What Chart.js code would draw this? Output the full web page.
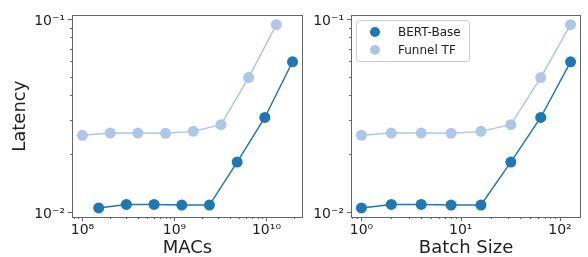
<!DOCTYPE html>
<html>
<head>
<meta charset="utf-8">
<script src="https://cdn.jsdelivr.net/npm/chart.js@4.4.1/dist/chart.umd.min.js"></script>
<style>
  html, body { margin: 0; padding: 0; background: #fff; }
  #wrap { position: relative; width: 588px; height: 257px; overflow: hidden; }
  canvas { position: absolute; top: 0; }
  #c1 { left: 0; }
  #c2 { left: 310px; }
</style>
</head>
<body>
<div id="wrap">
  <canvas id="c1" width="310" height="257"></canvas>
  <canvas id="c2" width="278" height="257"></canvas>
</div>
<script>
// ---- data ----
const seriesNames = ['BERT-Base', 'Funnel TF'];
const macsBert   = [1.5e8, 3e8, 6e8, 1.2e9, 2.4e9, 4.8e9, 9.6e9, 1.92e10];
const macsFunnel = [1e8, 2e8, 4e8, 8e8, 1.6e9, 3.2e9, 6.4e9, 1.28e10];
const batchSizes = [1, 2, 4, 8, 16, 32, 64, 128];
const latencyBert   = [0.01045, 0.0109, 0.0109, 0.01082, 0.01082, 0.01807, 0.03076, 0.0598];
const latencyFunnel = [0.02486, 0.02555, 0.02555, 0.02547, 0.02606, 0.02822, 0.0495, 0.0931];

const macsTickValues  = [1e8, 1e9, 1e10];
const macsTickLabels  = ['10⁸', '10⁹', '10¹⁰'];
const batchTickValues = [1, 10, 100];
const batchTickLabels = ['10⁰', '10¹', '10²'];
const latTickValues   = [0.01, 0.1];
const latTickLabels   = ['10⁻²', '10⁻¹'];

const colors = ['#1f77b4', '#aec7e8'];
const FRAME = '#666666';
const TEXT = '#222222';
const FONT = "'DejaVu Sans', sans-serif";

function isMajor(v) {
  const l = Math.log10(v);
  return Math.abs(l - Math.round(l)) < 1e-9;
}
function logTicks(min, max) {
  const out = [];
  const e0 = Math.floor(Math.log10(min)), e1 = Math.ceil(Math.log10(max));
  for (let e = e0; e <= e1; e++) {
    for (let m = 1; m <= 9; m++) {
      const v = parseFloat((m * Math.pow(10, e)).toPrecision(6));
      if (v >= min * 0.999999 && v <= max * 1.000001) out.push(v);
    }
  }
  return out;
}
function labeler(values, labels) {
  return function (v) {
    for (let i = 0; i < values.length; i++) {
      if (Math.abs(Math.log10(v) - Math.log10(values[i])) < 1e-9) return labels[i];
    }
    return '';
  };
}

const framePlugin = {
  id: 'frame',
  afterDraw(chart) {
    const ctx = chart.ctx, a = chart.chartArea;
    ctx.save();
    ctx.strokeStyle = FRAME;
    ctx.lineWidth = 1;
    // ticks
    const xs = chart.scales.x, ys = chart.scales.y;
    ctx.beginPath();
    xs.ticks.forEach(t => {
      const px = Math.round(xs.getPixelForValue(t.value)) + 0.5;
      const len = isMajor(t.value) ? 4 : 2;
      ctx.moveTo(px, a.bottom);
      ctx.lineTo(px, a.bottom + len);
    });
    ys.ticks.forEach(t => {
      const py = Math.round(ys.getPixelForValue(t.value)) + 0.5;
      const len = isMajor(t.value) ? 4 : 2;
      ctx.moveTo(a.left, py);
      ctx.lineTo(a.left - len, py);
    });
    ctx.stroke();
    ctx.strokeRect(Math.round(a.left) + 0.5, Math.round(a.top) + 0.5,
                   Math.round(a.right - a.left) - 1, Math.round(a.bottom - a.top));
    ctx.restore();
  }
};

const legendPlugin = {
  id: 'boxLegend',
  afterDraw(chart, args, opts) {
    if (!opts.show) return;
    const ctx = chart.ctx;
    ctx.save();
    ctx.globalAlpha = 0.8;
    ctx.fillStyle = '#ffffff';
    ctx.strokeStyle = '#cccccc';
    ctx.lineWidth = 1;
    ctx.beginPath();
    ctx.roundRect(46.5, 20.5, 113, 41, 3);
    ctx.fill();
    ctx.globalAlpha = 1;
    ctx.stroke();
    chart.data.datasets.forEach((ds, i) => {
      const y = 32 + i * 18;
      ctx.fillStyle = ds.backgroundColor;
      ctx.beginPath();
      ctx.arc(65, y, 5, 0, Math.PI * 2);
      ctx.fill();
      ctx.fillStyle = TEXT;
      ctx.font = '12px ' + FONT;
      ctx.textBaseline = 'middle';
      ctx.textAlign = 'left';
      ctx.fillText(ds.label, 88, y + 0.5);
    });
    ctx.restore();
  }
};

function makeDatasets(xb, xf) {
  return [
    { label: seriesNames[0], data: xb.map((x, i) => ({ x, y: latencyBert[i] })),
      borderColor: colors[0], backgroundColor: colors[0], borderWidth: 1.5,
      pointRadius: 5.5, pointHoverRadius: 5.5, pointBorderWidth: 0, tension: 0 },
    { label: seriesNames[1], data: xf.map((x, i) => ({ x, y: latencyFunnel[i] })),
      borderColor: colors[1], backgroundColor: colors[1], borderWidth: 1.5,
      pointRadius: 5.5, pointHoverRadius: 5.5, pointBorderWidth: 0, tension: 0 }
  ];
}

function makeChart(id, cfg) {
  return new Chart(document.getElementById(id), {
    type: 'line',
    data: { datasets: makeDatasets(cfg.xb, cfg.xf) },
    options: {
      responsive: false, animation: false, devicePixelRatio: 1,
      events: [],
      layout: { padding: { left: 0, right: 7, top: 14, bottom: 0 } },
      plugins: { legend: { display: false }, tooltip: { enabled: false },
                 boxLegend: { show: cfg.legend } },
      scales: {
        x: {
          type: 'logarithmic', min: cfg.xmin, max: cfg.xmax,
          grid: { display: false, drawTicks: false }, border: { display: false },
          afterBuildTicks: s => { s.ticks = logTicks(s.min, s.max).map(v => ({ value: v })); },
          afterFit: s => { s.height = 40; },
          ticks: { autoSkip: false, maxRotation: 0, minRotation: 0, padding: 5,
                   color: TEXT, font: { family: FONT, size: 14 },
                   callback: labeler(cfg.xTickValues, cfg.xTickLabels) },
          title: { display: true, text: cfg.xTitle, color: TEXT,
                   font: { family: FONT, size: 18, lineHeight: 1.0 },
                   padding: { top: 0, bottom: 0 } }
        },
        y: {
          type: 'logarithmic', min: 0.00938, max: 0.104,
          grid: { display: false, drawTicks: false }, border: { display: false },
          afterBuildTicks: s => { s.ticks = logTicks(s.min, s.max).map(v => ({ value: v })); },
          afterFit: s => { s.width = cfg.yWidth; },
          ticks: { autoSkip: false, padding: 7, labelOffset: 3,
                   color: TEXT, font: { family: FONT, size: 14 },
                   callback: labeler(latTickValues, latTickLabels) },
          title: { display: !!cfg.yTitle, text: cfg.yTitle || '', color: TEXT,
                   font: { family: FONT, size: 18, lineHeight: 1.2 },
                   padding: { top: 10, bottom: 0 } }
        }
      }
    },
    plugins: [framePlugin, legendPlugin]
  });
}

makeChart('c1', {
  xb: macsBert, xf: macsFunnel, xmin: 7.69e7, xmax: 2.495e10,
  xTickValues: macsTickValues, xTickLabels: macsTickLabels,
  xTitle: 'MACs', yTitle: 'Latency', yWidth: 72, legend: false
});
makeChart('c2', {
  xb: batchSizes, xf: batchSizes, xmin: 0.785, xmax: 163,
  xTickValues: batchTickValues, xTickLabels: batchTickLabels,
  xTitle: 'Batch Size', yTitle: '', yWidth: 41, legend: true
});
</script>
</body>
</html>
